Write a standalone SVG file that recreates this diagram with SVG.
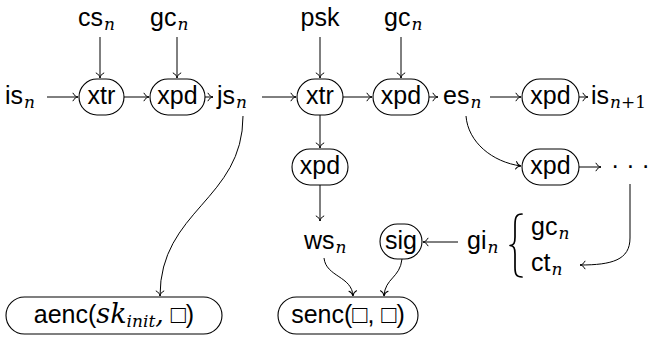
<svg xmlns="http://www.w3.org/2000/svg" width="653" height="349" viewBox="0 0 653 349">
  <defs>
    <!-- open "to"-style arrow tip -->
    <marker id="tip" viewBox="-6 -5 8 10" refX="0" refY="0" markerWidth="8" markerHeight="10" markerUnits="userSpaceOnUse" orient="auto" overflow="visible">
      <path d="M-5,-3.8 C-4,-1.4 -1.5,-0.3 0,0 C-1.5,0.3 -4,1.4 -5,3.8" fill="none" stroke="#000" stroke-width="1" stroke-linecap="round"/>
    </marker>
    <style>
      text { font-family: "Liberation Sans", Arial, sans-serif; font-size: 25px; fill: #000; }
      .m { text-anchor: middle; }
      .sub { font-family: "DejaVu Serif", "Liberation Serif", serif; font-style: italic; font-size: 17px; }
      .subr { font-family: "DejaVu Serif", "Liberation Serif", serif; font-size: 17px; }
      .it { font-family: "DejaVu Serif", "Liberation Serif", serif; font-style: italic; font-size: 27px; }
      .box { fill: #fff; stroke: #000; stroke-width: 1.1; }
      .edge { fill: none; stroke: #000; stroke-width: 1; marker-end: url(#tip); }
      .brace { fill: none; stroke: #000; stroke-width: 1.7; stroke-linecap: round; stroke-linejoin: round; }
    </style>
  </defs>

  <!-- connectors -->
  <g id="connectors">
    <path class="edge" d="M47,97 H78"/>
    <path class="edge" d="M100,37 V78"/>
    <path class="edge" d="M124,97 H149"/>
    <path class="edge" d="M177,37 V78"/>
    <path class="edge" d="M205,97 H213"/>
    <path class="edge" d="M262,97 H296"/>
    <path class="edge" d="M320,37 V78"/>
    <path class="edge" d="M343,97 H372"/>
    <path class="edge" d="M401,37 V78"/>
    <path class="edge" d="M429,97 H438"/>
    <path class="edge" d="M490,97 H521"/>
    <path class="edge" d="M579,97 H588"/>
    <path class="edge" d="M466,116 C468,142 492,162 521,166"/>
    <path class="edge" d="M579,167 H601"/>
    <path class="edge" d="M630,184 V238 C630,260 612,265 580,265"/>
    <path class="edge" d="M320,115 V148"/>
    <path class="edge" d="M320,185 V221"/>
    <path class="edge" d="M458,242 H423"/>
    <path class="edge" d="M324,258 C326,277 352,276 353,296"/>
    <path class="edge" d="M402,259 C400,278 385,278 384,296"/>
    <path class="edge" d="M243,116 C243,200 160,210 160,296"/>
  </g>

  <!-- plain labels -->
  <g id="cs-n"><text x="78" y="26">cs<tspan class="sub" dx="1" dy="4">n</tspan></text></g>
  <g id="gc-n-1"><text x="150" y="26">gc<tspan class="sub" dx="1" dy="4">n</tspan></text></g>
  <g id="psk"><text x="320" y="26" class="m">psk</text></g>
  <g id="gc-n-2"><text x="384" y="26">gc<tspan class="sub" dx="1" dy="4">n</tspan></text></g>
  <g id="is-n"><text x="5" y="104">is<tspan class="sub" dx="1" dy="4">n</tspan></text></g>
  <g id="js-n"><text x="217" y="104">js<tspan class="sub" dx="1" dy="4">n</tspan></text></g>
  <g id="es-n"><text x="443" y="104">es<tspan class="sub" dx="1" dy="4">n</tspan></text></g>
  <g id="is-n1"><text x="591" y="104">is<tspan class="sub" dx="1" dy="4">n</tspan><tspan class="subr">+1</tspan></text></g>
  <g id="dots"><text x="611" y="174">· · ·</text></g>
  <g id="ws-n"><text x="304" y="249">ws<tspan class="sub" dx="1" dy="4">n</tspan></text></g>
  <g id="gi-n"><text x="467" y="249">gi<tspan class="sub" dx="1" dy="4">n</tspan></text></g>
  <g id="gc-ct">
    <path class="brace" d="M522,214 C516,214 515,218 515,225 V237 C515,243 514,245 510,245.5 C514,246 515,248 515,254 V267 C515,274 516,277 522,277"/>
    <text x="531" y="235">gc<tspan class="sub" dx="1" dy="4">n</tspan></text>
    <text x="531" y="271">ct<tspan class="sub" dx="1" dy="4">n</tspan></text>
  </g>

  <!-- operation nodes -->
  <g id="xtr-1"><rect class="box" x="79" y="79" width="45" height="36" rx="18"/><text class="m" x="101.5" y="104">xtr</text></g>
  <g id="xpd-1"><rect class="box" x="150" y="79" width="55" height="36" rx="18"/><text class="m" x="177.5" y="104">xpd</text></g>
  <g id="xtr-2"><rect class="box" x="297" y="79" width="46" height="36" rx="18"/><text class="m" x="320" y="104">xtr</text></g>
  <g id="xpd-2"><rect class="box" x="373" y="79" width="56" height="36" rx="18"/><text class="m" x="401" y="104">xpd</text></g>
  <g id="xpd-3"><rect class="box" x="522" y="79" width="57" height="36" rx="18"/><text class="m" x="550.5" y="104">xpd</text></g>
  <g id="xpd-4"><rect class="box" x="522" y="149" width="57" height="36" rx="18"/><text class="m" x="550.5" y="174">xpd</text></g>
  <g id="xpd-5"><rect class="box" x="292" y="149" width="56" height="36" rx="18"/><text class="m" x="320" y="174">xpd</text></g>
  <g id="sig"><rect class="box" x="380" y="224" width="42" height="35" rx="17.5"/><text class="m" x="401" y="249">sig</text></g>
  <g id="aenc"><rect class="box" x="6" y="297" width="216" height="37" rx="18.5"/><text class="m" x="114" y="323">aenc(<tspan class="it">sk</tspan><tspan class="sub" dy="4">init</tspan><tspan class="it" dy="-4">,</tspan> □)</text></g>
  <g id="senc"><rect class="box" x="278" y="297" width="140" height="37" rx="18.5"/><text class="m" x="348" y="323">senc(□, □)</text></g>
</svg>
